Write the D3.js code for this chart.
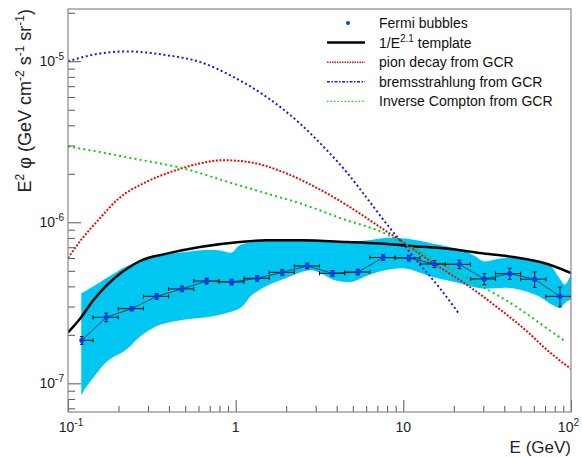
<!DOCTYPE html>
<html>
<head>
<meta charset="utf-8">
<script src="https://cdn.jsdelivr.net/npm/d3@7"></script>
<style>
body { margin: 0; background: #fff; }
svg { display: block; font-family: "Liberation Sans", Arial, Helvetica, sans-serif; }
</style>
</head>
<body>
<svg id="chart" width="582" height="457"></svg>
<script>
// Fermi bubbles data points (E in GeV, E^2 flux)
var binEdges = [0.12, 0.141, 0.1995, 0.282, 0.398, 0.562, 0.794, 1.122, 1.585, 2.239, 3.162,
                4.467, 6.31, 8.91, 12.59, 17.78, 25.12, 35.48, 50.12, 70.79, 100];
var fermiE = [0.121, 0.169, 0.240, 0.338, 0.479, 0.671, 0.946, 1.346, 1.897, 2.67,
              3.78, 5.36, 7.59, 10.8, 15.3, 21.6, 30.4, 43.1, 60.7, 85.9];
var fermiFlux = [1.85e-7, 2.57e-7, 2.91e-7, 3.47e-7, 3.86e-7, 4.32e-7, 4.26e-7, 4.49e-7, 4.89e-7, 5.36e-7,
                 4.82e-7, 4.91e-7, 6.04e-7, 6.0e-7, 5.51e-7, 5.48e-7, 4.45e-7, 4.80e-7, 4.43e-7, 3.47e-7];
var fermiErr = [0.055, 0.06, 0.03, 0.04, 0.04, 0.04, 0.04, 0.04, 0.04, 0.04,
                0.04, 0.04, 0.04, 0.04, 0.05, 0.06, 0.08, 0.08, 0.11, 0.14];

// systematic band
var bandUpE = [0.12, 0.145, 0.174, 0.219, 0.275, 0.362, 0.499, 0.627, 0.787, 0.946, 1.06, 1.565, 2.258, 3.108,
               4.485, 6.175, 7.77, 10.22, 12.0, 15.07, 18.96, 23.85, 27.36, 29.96, 37.67, 47.37, 59.5, 74.8, 84, 92, 100];
var bandUpV = [3.61e-7, 4.06e-7, 4.57e-7, 5.28e-7, 5.81e-7, 6.24e-7, 6.54e-7, 6.70e-7, 6.70e-7, 6.5e-7, 7.2e-7, 7.73e-7, 7.84e-7, 7.73e-7,
               7.55e-7, 7.73e-7, 7.99e-7, 7.92e-7, 7.73e-7, 7.37e-7, 7.03e-7, 6.54e-7, 6.09e-7, 5.73e-7, 5.95e-7, 6.09e-7, 5.81e-7, 5.41e-7, 4.6e-7, 4.1e-7, 4.8e-7];
var bandLoE = [0.12, 0.1263, 0.145, 0.174, 0.219, 0.275, 0.345, 0.435, 0.547, 0.687, 0.863, 1.086, 1.246, 1.565, 1.968, 2.475,
               2.84, 3.258, 3.91, 4.92, 6.175, 7.77, 10.22, 15.0, 21.75, 28.6, 45.0, 65.3, 78, 85.9, 93.2, 100];
var bandLoV = [8.42e-8, 9.27e-8, 1.12e-7, 1.39e-7, 1.60e-7, 1.99e-7, 2.29e-7, 2.43e-7, 2.52e-7, 2.58e-7, 2.71e-7, 2.98e-7, 3.52e-7, 4.06e-7, 4.47e-7, 4.91e-7,
               5.03e-7, 4.80e-7, 4.36e-7, 4.26e-7, 4.69e-7, 5.03e-7, 5.16e-7, 4.57e-7, 4.18e-7, 3.89e-7, 3.89e-7, 3.44e-7, 3.05e-7, 2.96e-7, 3.19e-7, 3.32e-7];

// model curves
var templateE = [0.1, 0.118, 0.1416, 0.170, 0.204, 0.235, 0.269, 0.388, 0.612, 1.06, 1.53, 2.42, 4.59, 7.25, 11.5, 18.1, 28.6, 45.2, 71.5, 100];
var templateV = [2.07e-7, 2.52e-7, 3.28e-7, 4.06e-7, 4.80e-7, 5.3e-7, 5.75e-7, 6.39e-7, 7.03e-7, 7.55e-7, 7.73e-7, 7.73e-7, 7.55e-7, 7.38e-7, 7.1e-7, 6.87e-7, 6.44e-7, 6.08e-7, 5.53e-7, 4.84e-7];
var pionE = [0.1, 0.12, 0.15, 0.2, 0.3, 0.45, 0.612, 0.844, 1.22, 1.92, 2.9, 4.59, 7.25, 10, 15, 23.85, 37.67, 55.6, 71.5, 100];
var pionV = [6.0e-7, 7.8e-7, 1.02e-6, 1.4e-6, 1.8e-6, 2.12e-6, 2.32e-6, 2.43e-6, 2.36e-6, 2.05e-6, 1.68e-6, 1.28e-6, 9.35e-7, 7.5e-7, 5.6e-7, 4.1e-7, 2.88e-7, 2.07e-7, 1.62e-7, 1.23e-7];
var bremE = [0.1, 0.15, 0.224, 0.388, 0.612, 0.967, 1.53, 2.42, 3.5, 4.59, 6.04, 8.32, 10.46, 13.1, 16.5, 21.5];
var bremV = [1.0e-5, 1.11e-5, 1.15e-5, 1.09e-5, 9.9e-6, 8.0e-6, 6.0e-6, 4.1e-6, 2.8e-6, 2.05e-6, 1.42e-6, 9.2e-7, 6.9e-7, 5.2e-7, 3.9e-7, 2.7e-7];
var icE = [0.1, 0.155, 0.245, 0.488, 0.967, 1.53, 2.42, 4.59, 7.25, 12, 18.96, 29.96, 47.37, 74.8, 92];
var icV = [2.96e-6, 2.73e-6, 2.49e-6, 2.16e-6, 1.74e-6, 1.51e-6, 1.31e-6, 1.03e-6, 8.8e-7, 6.7e-7, 5.16e-7, 3.96e-7, 2.98e-7, 2.13e-7, 1.83e-7];

// axis labels
var xMajor = [0.1, 1, 10, 100];
var xMajorLabels = [["10", "-1"], ["1", ""], ["10", ""], ["10", "2"]];
var yMajor = [1e-7, 1e-6, 1e-5];
var yMajorLabels = [["10", "-7"], ["10", "-6"], ["10", "-5"]];
var legendLabels = ["Fermi bubbles", "1/E|2.1| template", "pion decay from GCR",
                    "bremsstrahlung from GCR", "Inverse Compton from GCR"];

var margin = {top: 9, right: 11, bottom: 45, left: 68};
var width = 582 - margin.left - margin.right;
var height = 457 - margin.top - margin.bottom;

var svg = d3.select("#chart");
var g = svg.append("g").attr("transform", `translate(${margin.left},${margin.top})`);

var x = d3.scaleLog().domain([0.1, 100]).range([0, width]);
var y = d3.scaleLog().domain([6.64e-8, 2.11e-5]).range([height, 0]);

svg.append("defs").append("clipPath").attr("id", "plotclip")
    .append("rect").attr("width", width).attr("height", height);

var plot = g.append("g").attr("clip-path", "url(#plotclip)");

var zip = (es, vs) => es.map((e, i) => [e, vs[i]]);
var line = d3.line().x(d => x(d[0])).y(d => y(d[1]));

// band
var smooth = d3.line().x(d => x(d[0])).y(d => y(d[1])).curve(d3.curveCatmullRom);
var upPath = smooth(zip(bandUpE, bandUpV));
var loPath = smooth(zip(bandLoE, bandLoV).reverse());
plot.append("path")
    .attr("d", upPath + "L" + loPath.slice(1) + "Z")
    .attr("fill", "#00c6f2");

// model curves
var curves = [
    {e: templateE, v: templateV, color: "#000", w: 2.5, dash: null},
    {e: pionE, v: pionV, color: "#dd1111", w: 2, dash: "2,1.6"},
    {e: bremE, v: bremV, color: "#1a1ad8", w: 2, dash: "2,2.6"},
    {e: icE, v: icV, color: "#11cc11", w: 2, dash: "2,3.2"}
];
curves.forEach(c => {
    plot.append("path")
        .attr("d", line.curve(d3.curveMonotoneX)(zip(c.e, c.v)))
        .attr("fill", "none")
        .attr("stroke", c.color)
        .attr("stroke-width", c.w)
        .attr("stroke-dasharray", c.dash);
});

// data points
var pts = fermiE.map((e, i) => ({e: e, v: fermiFlux[i], err: fermiErr[i], lo: binEdges[i], hi: binEdges[i + 1]}));
plot.append("path")
    .attr("d", d3.line().x(d => x(d.e)).y(d => y(d.v))(pts))
    .attr("fill", "none").attr("stroke", "#1c3545").attr("stroke-width", 0.9);

var eb = plot.append("g").attr("stroke", "#111").attr("stroke-width", 1).attr("fill", "none");
pts.forEach(p => {
    var cy = y(p.v), cx = x(p.e);
    var y0 = y(p.v * (1 - p.err)), y1 = y(p.v * (1 + p.err));
    eb.append("line").attr("x1", x(p.lo)).attr("x2", x(p.hi)).attr("y1", cy).attr("y2", cy);
    eb.append("line").attr("x1", x(p.lo)).attr("x2", x(p.lo)).attr("y1", cy - 2).attr("y2", cy + 2);
    eb.append("line").attr("x1", x(p.hi)).attr("x2", x(p.hi)).attr("y1", cy - 2).attr("y2", cy + 2);
    eb.append("line").attr("x1", cx).attr("x2", cx).attr("y1", y0).attr("y2", y1);
    eb.append("line").attr("x1", cx - 2).attr("x2", cx + 2).attr("y1", y0).attr("y2", y0);
    eb.append("line").attr("x1", cx - 2).attr("x2", cx + 2).attr("y1", y1).attr("y2", y1);
});
plot.selectAll("circle.pt").data(pts).join("circle")
    .attr("class", "pt")
    .attr("cx", d => x(d.e)).attr("cy", d => y(d.v)).attr("r", 2.6)
    .attr("fill", "#0a3cff");

// axes
function isMajor(v) { return Math.abs(Math.log10(v) - Math.round(Math.log10(v))) < 1e-6; }
var xMinor = x.ticks().filter(v => !isMajor(v));
var yMinor = y.ticks().filter(v => !isMajor(v));

function styleAxis(sel) {
    sel.select(".domain").remove();
    sel.selectAll(".tick line").attr("stroke", "#555");
    sel.selectAll(".tick text").remove();
}
g.append("g").attr("transform", `translate(0,${height})`)
    .call(d3.axisBottom(x).tickValues(xMinor).tickSize(-6).tickFormat("")).call(styleAxis);
g.append("g").attr("transform", `translate(0,${height})`)
    .call(d3.axisBottom(x).tickValues(xMajor).tickSize(-12).tickFormat("")).call(styleAxis);
g.append("g")
    .call(d3.axisLeft(y).tickValues(yMinor).tickSize(-7).tickFormat("")).call(styleAxis);
g.append("g")
    .call(d3.axisLeft(y).tickValues(yMajor).tickSize(-13).tickFormat("")).call(styleAxis);

// frame
g.append("rect").attr("width", width).attr("height", height)
    .attr("fill", "none").attr("stroke", "#888").attr("stroke-width", 1.2);

function powerLabel(sel, parts, supSize) {
    sel.append("tspan").text(parts[0]);
    if (parts[1]) sel.append("tspan").attr("font-size", supSize).attr("dy", -6).text(parts[1]);
}

xMajor.forEach((v, i) => {
    var last = i === xMajor.length - 1;
    var t = g.append("text")
        .attr("x", last ? 579 - margin.left : x(v) + (xMajorLabels[i][1] ? 3 : 0))
        .attr("y", height + 20)
        .attr("text-anchor", last ? "end" : "middle").attr("font-size", 14).attr("fill", "#222");
    powerLabel(t, xMajorLabels[i], 10);
});
yMajor.forEach((v, i) => {
    var t = g.append("text").attr("x", -4).attr("y", y(v) + 5)
        .attr("text-anchor", "end").attr("font-size", 14).attr("fill", "#222");
    powerLabel(t, yMajorLabels[i], 10);
});

// axis titles
svg.append("text").attr("x", 571).attr("y", 453).attr("text-anchor", "end")
    .attr("font-size", 17).attr("fill", "#222").text("E (GeV)");

var yt = svg.append("text").attr("transform", "translate(31,9) rotate(-90)")
    .attr("text-anchor", "end").attr("font-size", 18).attr("fill", "#222");
[["E", 0, 18], ["2", -7, 12], [" \u03c6 (GeV cm", 7, 18], ["-2", -7, 12], [" s", 7, 18],
 ["-1", -7, 12], [" sr", 7, 18], ["-1", -7, 12], [")", 7, 18]].forEach(p => {
    yt.append("tspan").attr("dy", p[1]).attr("font-size", p[2]).text(p[0]);
});

// legend
var leg = svg.append("g").attr("transform", "translate(318,12)");
leg.append("rect").attr("width", 240).attr("height", 100).attr("fill", "#fff");
var legStyles = [
    {type: "dot", color: "#0a3cff"},
    {type: "line", color: "#000", w: 2.5, dash: null},
    {type: "line", color: "#dd1111", w: 1.4, dash: "1.5,1"},
    {type: "line", color: "#1a1ad8", w: 1.4, dash: "3,1.5,1.5,1.5"},
    {type: "line", color: "#11cc11", w: 1.4, dash: "1.5,2"}
];
legendLabels.forEach((lab, i) => {
    var cy = 11 + i * 19.6;
    var s = legStyles[i];
    if (s.type === "dot") {
        leg.append("circle").attr("cx", 30).attr("cy", cy).attr("r", 2).attr("fill", s.color);
    } else {
        leg.append("line").attr("x1", 9).attr("x2", 47).attr("y1", cy).attr("y2", cy)
            .attr("stroke", s.color).attr("stroke-width", s.w).attr("stroke-dasharray", s.dash);
    }
    var t = leg.append("text").attr("x", 61).attr("y", cy + 5).attr("font-size", 14).attr("fill", "#111");
    var parts = lab.split("|");
    t.append("tspan").text(parts[0]);
    if (parts.length > 1) {
        t.append("tspan").attr("dy", -6).attr("font-size", 10).text(parts[1]);
        t.append("tspan").attr("dy", 6).text(parts[2]);
    }
});
</script>
</body>
</html>
